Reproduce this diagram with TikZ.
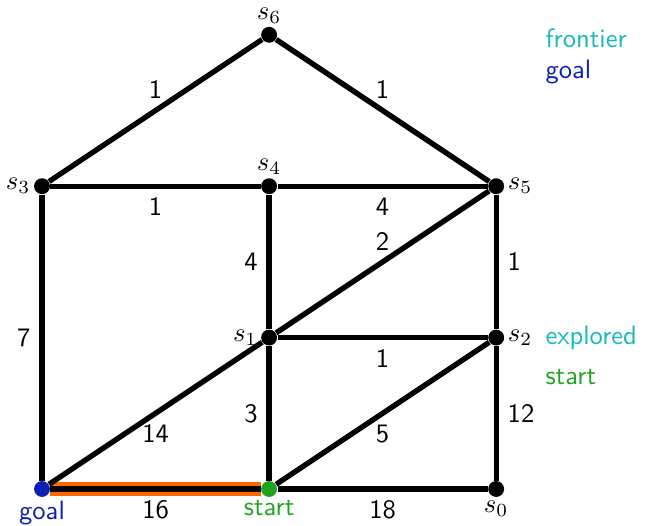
\documentclass[tikz,border=0pt]{standalone}
\usepackage{amsmath,amssymb}
\usepackage{xcolor}
\usepackage{tikz}
\usetikzlibrary{positioning}

\definecolor{frontiercol}{RGB}{20,186,186}
\definecolor{goalcol}{RGB}{12,32,180}
\definecolor{startcol}{RGB}{34,162,34}
\definecolor{pathcol}{RGB}{255,102,0}

\begin{document}
\begin{tikzpicture}[
  v/.style={circle,fill=black,inner sep=0pt,minimum size=0.21cm},
  e/.style={line width=2pt},
  w/.style={font=\sffamily},
  lg/.style={font=\sffamily,anchor=west,inner sep=0pt}]
\useasboundingbox (-0.555,-0.476) rectangle (7.966,6.460);
\node[v,fill=goalcol,label={[goalcol,font=\sffamily,inner sep=1pt]below:goal}] (g) at (0,0) {};
\node[v,fill=startcol,label={[startcol,font=\sffamily,inner sep=1pt]below:start}] (st) at (3,0) {};
\node[v,label={[inner sep=1pt]below:$s_0$}] (s0) at (6,0) {};
\node[v,label={[inner sep=1pt]left:$s_1$}] (s1) at (3,2) {};
\node[v,label={[inner sep=1pt]right:$s_2$}] (s2) at (6,2) {};
\node[v,label={[inner sep=1pt]left:$s_3$}] (s3) at (0,4) {};
\node[v,label={[inner sep=1pt]above:$s_4$}] (s4) at (3,4) {};
\node[v,label={[inner sep=1pt]right:$s_5$}] (s5) at (6,4) {};
\node[v,label={[inner sep=1pt]above:$s_6$}] (s6) at (3,6) {};
% path found so far
\draw[pathcol,line width=5pt] (g) -- (st);
\draw[e] (s6) -- node[w,above] {1} (s3);
\draw[e] (s6) -- node[w,above] {1} (s5);
\draw[e] (s3) -- node[w,below] {1} (s4);
\draw[e] (s4) -- node[w,below] {4} (s5);
\draw[e] (s4) -- node[w,left] {4} (s1);
\draw[e] (s5) -- node[w,above] {2} (s1);
\draw[e] (s5) -- node[w,right] {1} (s2);
\draw[e] (s3) -- node[w,left] {7} (g);
\draw[e] (s1) -- node[w,below] {1} (s2);
\draw[e] (s1) -- node[w,left] {3} (st);
\draw[e] (s1) -- node[w,below] {14} (g);
\draw[e] (s2) -- node[w,below] {5} (st);
\draw[e] (s2) -- node[w,right] {12} (s0);
\draw[e] (g) -- node[w,below] {16} (st);
\draw[e] (st) -- node[w,below] {18} (s0);
% legend
\node[lg,frontiercol] (lfr) at (6.645,5.96) {frontier};
\node[lg,goalcol] (lgo) at (6.645,5.51) {goal};
\node[lg,frontiercol] (lex) at (6.645,2.0) {explored};
\node[lg,startcol] (lst) at (6.645,1.48) {start};
\end{tikzpicture}
\end{document}
